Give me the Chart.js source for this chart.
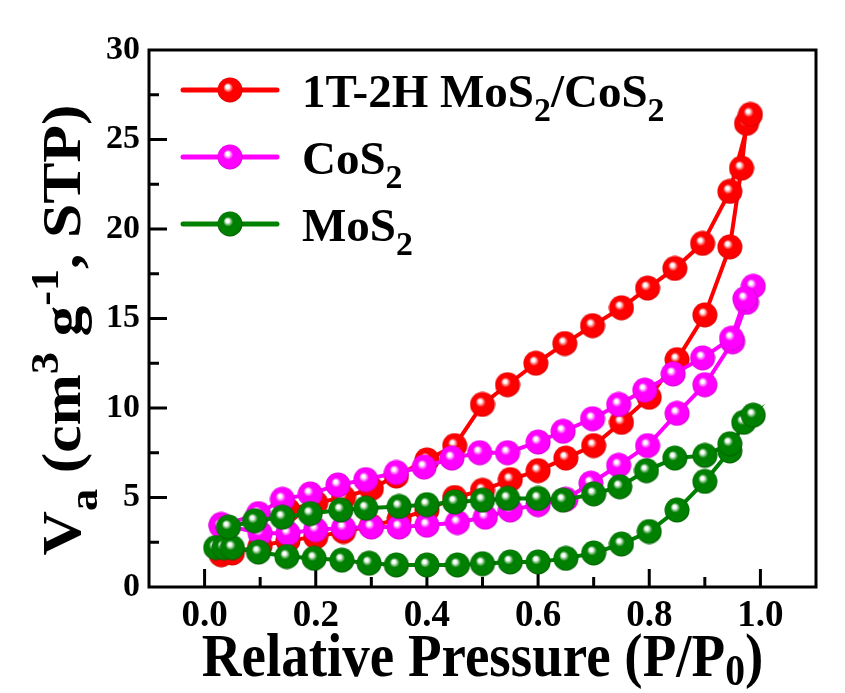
<!DOCTYPE html>
<html>
<head>
<meta charset="utf-8">
<script src="https://cdn.jsdelivr.net/npm/chart.js@4.4.0/dist/chart.umd.min.js"></script>
<style>
  body { margin: 0; background: #fff; }
  #wrap { width: 845px; height: 693px; }
</style>
</head>
<body>
<div id="wrap"><canvas id="iso" width="845" height="693"></canvas></div>
<script>
// N2 isotherms (adsorption branch then desorption branch)
var redAdsX = [0.03, 0.05, 0.10, 0.15, 0.20, 0.25, 0.30, 0.35, 0.40, 0.45, 0.50, 0.55, 0.60, 0.65, 0.70, 0.75, 0.80, 0.85, 0.90, 0.945, 0.966, 0.975, 0.982]
var redAdsY = [1.8, 1.9, 2.3, 2.6, 2.8, 3.1, 3.4, 3.8, 4.3, 5.0, 5.4, 6.0, 6.5, 7.2, 7.9, 9.2, 10.6, 12.7, 15.2, 19.0, 23.4, 25.9, 26.4]
var redDesX = [0.945, 0.896, 0.846, 0.797, 0.75, 0.698, 0.648, 0.596, 0.545, 0.50, 0.45, 0.40, 0.345, 0.30, 0.25, 0.20, 0.15]
var redDesY = [22.1, 19.2, 17.8, 16.7, 15.6, 14.6, 13.6, 12.5, 11.3, 10.2, 7.9, 7.1, 6.2, 5.5, 5.0, 4.7, 4.3]

var cosAdsX = [0.03, 0.10, 0.15, 0.20, 0.25, 0.30, 0.35, 0.40, 0.455, 0.505, 0.55, 0.60, 0.65, 0.695, 0.745, 0.797, 0.85, 0.90, 0.95, 0.975, 0.987]
var cosAdsY = [3.5, 3.0, 3.0, 3.2, 3.3, 3.35, 3.35, 3.45, 3.6, 3.9, 4.3, 4.6, 4.9, 5.8, 6.8, 7.9, 9.7, 11.3, 13.7, 15.9, 16.8]
var cosDesX = [0.972, 0.948, 0.896, 0.843, 0.792, 0.745, 0.698, 0.645, 0.60, 0.545, 0.495, 0.445, 0.395, 0.345, 0.29, 0.24, 0.19, 0.14, 0.097, 0.03]
var cosDesY = [16.1, 13.9, 12.8, 11.9, 11.0, 10.2, 9.4, 8.7, 8.1, 7.5, 7.5, 7.2, 6.7, 6.4, 6.0, 5.7, 5.2, 4.9, 4.1, 3.4]

var mosAdsX = [0.02, 0.035, 0.05, 0.097, 0.148, 0.197, 0.247, 0.296, 0.345, 0.40, 0.455, 0.50, 0.55, 0.60, 0.65, 0.70, 0.75, 0.80, 0.85, 0.90, 0.945, 0.97, 0.987]
var mosAdsY = [2.2, 2.2, 2.2, 1.95, 1.7, 1.6, 1.5, 1.33, 1.23, 1.23, 1.23, 1.3, 1.4, 1.4, 1.6, 1.9, 2.4, 3.1, 4.3, 5.9, 7.6, 9.2, 9.6]
var mosDesX = [0.945, 0.90, 0.846, 0.795, 0.747, 0.70, 0.645, 0.60, 0.545, 0.50, 0.45, 0.40, 0.35, 0.29, 0.245, 0.19, 0.14, 0.09, 0.043]
var mosDesY = [8.0, 7.35, 7.2, 6.5, 5.6, 5.2, 4.85, 4.95, 4.95, 4.85, 4.75, 4.6, 4.5, 4.4, 4.3, 4.1, 3.9, 3.7, 3.35]

var xTickLabels = ['0.0', '0.2', '0.4', '0.6', '0.8', '1.0']
var yTickLabels = ['0', '5', '10', '15', '20', '25', '30']

var FONT = '"Liberation Serif", "Times New Roman", serif'

function toPoints(ax, ay, dx, dy) {
    var pts = []
    for (var i = 0; i < ax.length; i++) pts.push({ x: ax[i], y: ay[i] })
    for (var j = 0; j < dx.length; j++) pts.push({ x: dx[j], y: dy[j] })
    return pts
}

// shaded ball marker like the Origin "sphere" symbol
function sphere(color, dark, r) {
    var c = document.createElement('canvas')
    c.width = c.height = r * 2
    var g = c.getContext('2d')
    var grad = g.createRadialGradient(r - 0.22 * r, r - 0.28 * r, 0, r, r, r)
    grad.addColorStop(0, '#ffffff')
    grad.addColorStop(0.13, '#ffffff')
    grad.addColorStop(0.38, color)
    grad.addColorStop(0.85, color)
    grad.addColorStop(1, dark)
    g.fillStyle = grad
    g.beginPath()
    g.arc(r, r, r - 0.5, 0, Math.PI * 2)
    g.fill()
    return c
}

var series = [
    { name: [['1T-2H MoS', 'n'], ['2', 'sub'], ['/CoS', 'n'], ['2', 'sub']], color: '#ff0000', dark: '#c80000',
      data: toPoints(redAdsX, redAdsY, redDesX, redDesY), order: 3 },
    { name: [['CoS', 'n'], ['2', 'sub']], color: '#ff00ff', dark: '#c800c8',
      data: toPoints(cosAdsX, cosAdsY, cosDesX, cosDesY), order: 2 },
    { name: [['MoS', 'n'], ['2', 'sub']], color: '#008000', dark: '#005400',
      data: toPoints(mosAdsX, mosAdsY, mosDesX, mosDesY), order: 1 }
]
series.forEach(function (s) { s.ball = sphere(s.color, s.dark, 13) })

function partSize(p, size) { return p[1] === 'n' ? size : size * 0.72 }

function richWidth(ctx, parts, size) {
    var w = 0
    parts.forEach(function (p) {
        ctx.font = 'bold ' + partSize(p, size) + 'px ' + FONT
        w += ctx.measureText(p[0]).width
    })
    return w
}

function drawRich(ctx, parts, x, y, size, subDrop) {
    var cx = x
    var drop = subDrop || 0.3
    parts.forEach(function (p) {
        var dy = p[1] === 'sub' ? size * drop : (p[1] === 'sup' ? -size * 0.4 : 0)
        ctx.font = 'bold ' + partSize(p, size) + 'px ' + FONT
        ctx.fillText(p[0], cx, y + dy)
        cx += ctx.measureText(p[0]).width
    })
}

var decor = {
    id: 'decor',
    beforeDatasetsDraw: function (chart) {
        var ctx = chart.ctx, a = chart.chartArea
        var xs = chart.scales.x, ys = chart.scales.y
        ctx.save()
        ctx.strokeStyle = '#000'
        ctx.lineWidth = 3
        ctx.beginPath()
        for (var k = 0; k <= 10; k++) {
            var px = xs.getPixelForValue(k / 10)
            var len = k % 2 === 0 ? 18 : 10
            ctx.moveTo(px, a.bottom)
            ctx.lineTo(px, a.bottom - len)
        }
        for (var m = 1; m < 12; m++) {
            var py = ys.getPixelForValue(m * 2.5)
            var l2 = m % 2 === 0 ? 18 : 10
            ctx.moveTo(a.left, py)
            ctx.lineTo(a.left + l2, py)
        }
        ctx.stroke()
        ctx.restore()
    },
    afterDraw: function (chart) {
        var ctx = chart.ctx, a = chart.chartArea
        ctx.save()
        ctx.strokeStyle = '#000'
        ctx.lineWidth = 3
        ctx.strokeRect(a.left, a.top, a.right - a.left, a.bottom - a.top)

        // legend
        ctx.textBaseline = 'alphabetic'
        var rows = [90, 157, 224]
        series.forEach(function (s, i) {
            var y = rows[i]
            ctx.strokeStyle = s.color
            ctx.lineWidth = 5
            ctx.lineCap = 'round'
            ctx.beginPath()
            ctx.moveTo(183, y)
            ctx.lineTo(277, y)
            ctx.stroke()
            ctx.drawImage(s.ball, 230 - 13, y - 13)
            ctx.fillStyle = '#000'
            drawRich(ctx, s.name, 302, y + 17, 47)
        })

        // axis titles (the source figure is stretched along the text height)
        ctx.fillStyle = '#000'
        var xt = [['Relative Pressure (P/P', 'n'], ['0', 'sub'], [')', 'n']]
        var w = richWidth(ctx, xt, 55)
        ctx.save()
        ctx.translate((a.left + a.right) / 2, 676)
        ctx.scale(1, 1.12)
        drawRich(ctx, xt, -w / 2, 0, 55, 0.15)
        ctx.restore()

        var yt = [['V', 'n'], ['a', 'sub'], [' (cm', 'n'], ['3', 'sup'], [' g', 'n'], ['-1', 'sup'], [', STP)', 'n']]
        ctx.translate(80, 330)
        ctx.rotate(-Math.PI / 2)
        ctx.scale(1.12, 1)
        var wy = richWidth(ctx, yt, 55)
        drawRich(ctx, yt, -wy / 2, 0, 55)
        ctx.restore()
    }
}

var ctxIso = document.getElementById('iso')

var chartIso = new Chart(ctxIso, {
    type: 'scatter',
    data: {
        datasets: series.map(function (s) {
            return {
                label: s.name.map(function (p) { return p[0] }).join(''),
                data: s.data,
                showLine: true,
                borderColor: s.color,
                borderWidth: 4,
                tension: 0,
                pointStyle: s.ball,
                pointRadius: 13,
                pointHoverRadius: 13,
                order: s.order
            }
        })
    },
    options: {
        responsive: false,
        animation: false,
        events: [],
        layout: { padding: { top: 50, right: 29, left: 0, bottom: 0 } },
        plugins: { legend: { display: false }, tooltip: { enabled: false } },
        scales: {
            x: {
                type: 'linear',
                min: -0.1,
                max: 1.1,
                grid: { display: false, drawTicks: false },
                border: { display: false },
                afterFit: function (scale) { scale.height = 106 },
                ticks: {
                    stepSize: 0.1,
                    autoSkip: false,
                    maxRotation: 0,
                    padding: 7,
                    color: '#000',
                    font: { family: FONT, weight: 'bold', size: 37 },
                    callback: function (v) {
                        var k = Math.round(v * 10)
                        if (k >= 0 && k <= 10 && k % 2 === 0) return xTickLabels[k / 2]
                        return ''
                    }
                }
            },
            y: {
                type: 'linear',
                min: 0,
                max: 30,
                grid: { display: false, drawTicks: false },
                border: { display: false },
                afterFit: function (scale) { scale.width = 149 },
                ticks: {
                    stepSize: 2.5,
                    autoSkip: false,
                    padding: 9,
                    color: '#000',
                    font: { family: FONT, weight: 'bold', size: 34 },
                    callback: function (v) {
                        var k = Math.round(v / 2.5)
                        return k % 2 === 0 ? yTickLabels[k / 2] : ''
                    }
                }
            }
        }
    },
    plugins: [decor]
})
</script>
</body>
</html>
